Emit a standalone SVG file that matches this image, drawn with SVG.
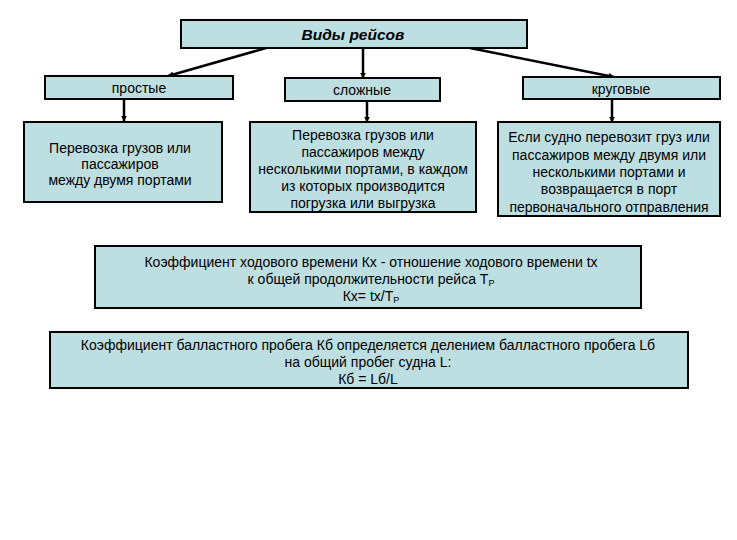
<svg xmlns="http://www.w3.org/2000/svg" width="737" height="540" viewBox="0 0 737 540">
<defs>
<marker id="ah" viewBox="0 0 10 10" refX="9" refY="5" markerWidth="6" markerHeight="6" markerUnits="userSpaceOnUse" orient="auto">
<path d="M0,0 L10,5 L0,10 z" fill="#000"/>
</marker>
<style>
.box{fill:#bedfe2;stroke:#000;stroke-width:2}
text{font-family:"Liberation Sans",Arial,sans-serif;font-size:14px;fill:#000;text-anchor:middle}
.title{font-weight:bold;font-style:italic;font-size:15.5px}
.sub{font-size:9px}
.con{stroke:#000;stroke-width:2.5;fill:none;marker-end:url(#ah)}
</style>
</defs>
<rect width="737" height="540" fill="#fff"/>
<g id="connectors">
<line class="con" x1="266" y1="48" x2="168" y2="76"/>
<line class="con" x1="363" y1="48" x2="363" y2="78"/>
<line class="con" x1="470" y1="48" x2="614" y2="77"/>
<line class="con" x1="124" y1="99" x2="124" y2="121"/>
<line class="con" x1="367" y1="101" x2="367" y2="122"/>
<line class="con" x1="612" y1="99" x2="612" y2="122"/>
</g>
<g id="title">
<rect class="box" x="181" y="20" width="346" height="28"/>
<text class="title" x="353" y="40">Виды рейсов</text>
</g>
<g id="simple">
<rect class="box" x="45" y="76" width="188" height="23"/>
<text x="139" y="93">простые</text>
</g>
<g id="complex">
<rect class="box" x="285" y="78" width="155" height="23"/>
<text x="362" y="95">сложные</text>
</g>
<g id="circular">
<rect class="box" x="523" y="77" width="197" height="22"/>
<text x="621" y="94">круговые</text>
</g>
<g id="simple-desc">
<rect class="box" x="24" y="122" width="198" height="80"/>
<text x="120" y="153">Перевозка грузов или</text>
<text x="120" y="169">пассажиров</text>
<text x="120" y="185">между двумя портами</text>
</g>
<g id="complex-desc">
<rect class="box" x="250" y="122" width="226" height="90"/>
<text x="363" y="140">Перевозка грузов или</text>
<text x="363" y="157">пассажиров между</text>
<text x="363" y="174">несколькими портами, в каждом</text>
<text x="363" y="191">из которых производится</text>
<text x="363" y="208">погрузка или выгрузка</text>
</g>
<g id="circular-desc">
<rect class="box" x="498" y="122" width="222" height="94"/>
<text x="609" y="142">Если судно перевозит груз или</text>
<text x="609" y="160">пассажиров  между двумя или</text>
<text x="609" y="177">несколькими портами и</text>
<text x="609" y="194">возвращается в порт</text>
<text x="609" y="212">первоначального отправления</text>
</g>
<g id="kx">
<rect class="box" x="95" y="246" width="546" height="62"/>
<text x="371" y="267">Коэффициент ходового времени Кх - отношение ходового времени tх</text>
<text x="371" y="284">к общей продолжительности  рейса Т<tspan class="sub" dy="2">Р</tspan></text>
<text x="371" y="301">Кх= tх/Т<tspan class="sub" dy="2">Р</tspan></text>
</g>
<g id="kb">
<rect class="box" x="50" y="332" width="638" height="56"/>
<text x="368" y="350">Коэффициент балластного пробега Кб определяется делением балластного пробега Lб</text>
<text x="368" y="367">на общий пробег судна L:</text>
<text x="368" y="384">Кб = Lб/L</text>
</g>
</svg>
